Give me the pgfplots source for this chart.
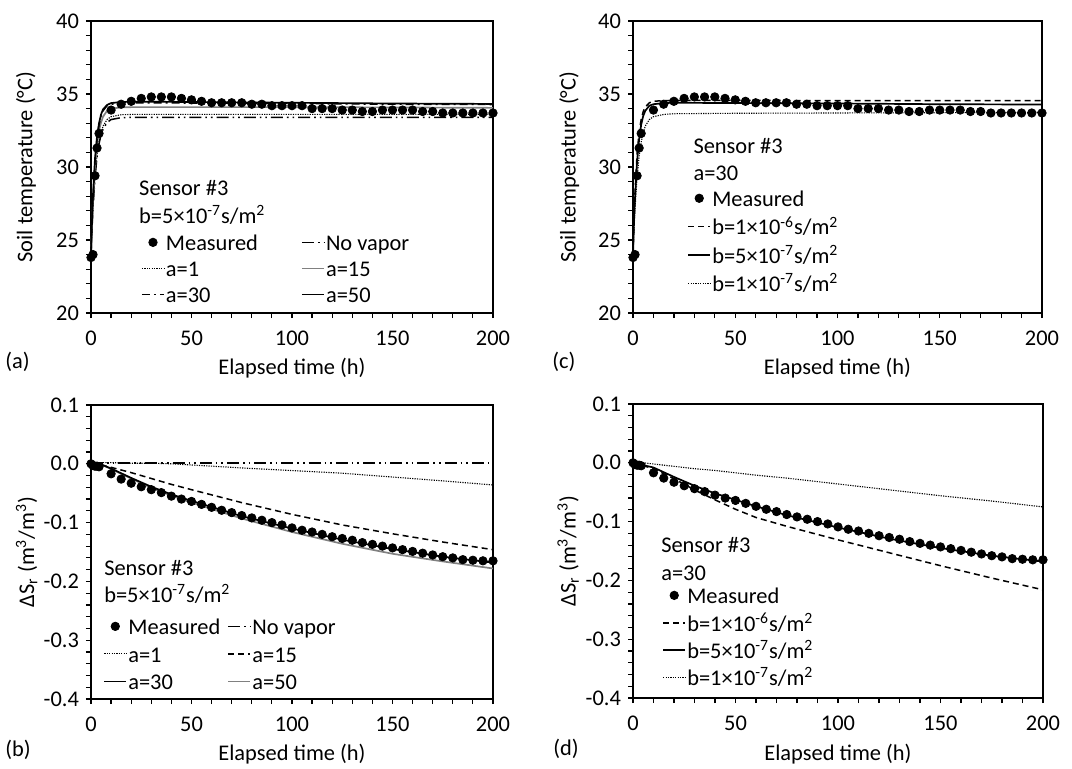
\documentclass[border=0pt]{standalone}
\usepackage{fontspec}
\setmainfont{Carlito}
\usepackage{pgfplots}
\usepackage{pgfplotstable}
\pgfplotsset{compat=1.18}
\newcommand\fs{\fontsize{11.2}{13.4}\selectfont}

\pgfplotstableread{
t T S
0 23.8 0.000
1 24.0 -0.003
2 29.4 -0.004
3 31.3 -0.004
4 32.3 -0.005
10 33.9 -0.017
15 34.3 -0.026
20 34.5 -0.033
25 34.7 -0.039
30 34.8 -0.044
35 34.8 -0.049
40 34.8 -0.055
45 34.7 -0.060
50 34.6 -0.064
55 34.5 -0.069
60 34.4 -0.074
65 34.4 -0.079
70 34.4 -0.083
75 34.4 -0.088
80 34.3 -0.092
85 34.3 -0.096
90 34.2 -0.100
95 34.2 -0.104
100 34.2 -0.109
105 34.2 -0.113
110 34.0 -0.116
115 34.0 -0.120
120 34.0 -0.124
125 33.9 -0.127
130 33.9 -0.130
135 33.8 -0.134
140 33.8 -0.137
145 33.9 -0.140
150 33.9 -0.143
155 33.9 -0.146
160 33.9 -0.149
165 33.8 -0.152
170 33.8 -0.155
175 33.7 -0.158
180 33.7 -0.160
185 33.7 -0.163
190 33.7 -0.164
195 33.7 -0.165
200 33.7 -0.165
}\meas

\pgfplotstableread{
t nv a1 a15 a30 a50
0   24.0 24.0 24.0 24.0 24.0
0.5 25.8 25.8 26.05 26.3 26.3
1   27.2 27.3 27.7 27.9 28.1
2   29.3 29.4 30.0 30.4 30.6
3   30.7 30.85 31.5 31.9 32.1
4   31.6 31.8 32.5 32.9 33.0
5   32.2 32.4 33.05 33.5 33.6
6   32.6 32.8 33.45 33.85 33.95
8   33.05 33.25 33.85 34.2 34.25
10  33.25 33.45 34.0 34.3 34.38
15  33.38 33.58 34.08 34.38 34.45
20  33.4 33.6 34.1 34.4 34.47
30  33.4 33.6 34.1 34.4 34.47
50  33.4 33.6 34.1 34.38 34.45
100 33.4 33.6 34.1 34.35 34.4
150 33.4 33.6 34.08 34.3 34.35
200 33.4 33.6 34.05 34.28 34.32
}\tempA

\pgfplotstableread{
t b6 b57 b7
0 24 24 24
0.5 26.4 26.3 25.75
1 28.3 27.9 27.2
2 30.9 30.4 29.3
3 32.4 31.9 30.75
4 33.25 32.9 31.7
5 33.8 33.5 32.35
6 34.1 33.85 32.8
8 34.4 34.2 33.25
10 34.5 34.3 33.45
15 34.55 34.38 33.6
20 34.56 34.4 33.65
50 34.56 34.38 33.68
100 34.55 34.35 33.7
150 34.55 34.3 33.72
200 34.55 34.28 33.75
}\tempC

\pgfplotstableread{
t nv a1 a15 a30 a50
0 0.001 0.002 0 0 0
5 0.001 0.002 -0.002 -0.001 -0.001
10 0.001 0.002 -0.006 -0.008 -0.009
20 0.001 0.001 -0.015 -0.024 -0.025
30 0.001 0.001 -0.025 -0.039 -0.041
40 0.001 0 -0.035 -0.052 -0.054
50 0.001 -0.002 -0.044 -0.063 -0.066
75 0.001 -0.007 -0.066 -0.089 -0.093
100 0.001 -0.0115 -0.086 -0.110 -0.116
125 0.001 -0.016 -0.104 -0.129 -0.136
150 0.001 -0.0225 -0.119 -0.145 -0.153
175 0.001 -0.029 -0.133 -0.158 -0.166
200 0.001 -0.036 -0.146 -0.168 -0.178
}\satB

\pgfplotstableread{
t b6 b57 b7
0 0 0 0.002
10 -0.010 -0.008 -0.002
20 -0.027 -0.024 -0.006
30 -0.046 -0.039 -0.010
40 -0.063 -0.052 -0.013
50 -0.079 -0.063 -0.017
60 -0.093 -0.074 -0.021
75 -0.108 -0.089 -0.026
100 -0.131 -0.110 -0.036
125 -0.153 -0.129 -0.046
150 -0.175 -0.145 -0.056
175 -0.196 -0.158 -0.065
200 -0.216 -0.168 -0.075
}\satD

\pgfplotsset{
 meas/.style={only marks, mark=*, mark size=2.1pt, black},
 sol/.style={black, line width=0.85pt, no marks},
 gsol/.style={gray, line width=0.85pt, no marks},
 dsh/.style={black, line width=0.75pt, no marks, dash pattern=on 3pt off 2pt},
 dot/.style={black, line width=0.55pt, no marks, dash pattern=on 0.6pt off 0.6pt},
 nov/.style={black, line width=0.75pt, no marks, dash pattern=on 6pt off 2pt on 0.8pt off 2pt on 0.8pt off 2pt},
 lda/.style={black, line width=0.75pt, no marks, dash pattern=on 4pt off 2pt on 1pt off 2pt},
 panel/.style={
  scale only axis, anchor=south west, clip=false,
  xmin=0, xmax=200, xtick={0,50,100,150,200}, minor x tick num=4,
  xtick pos=left, ytick pos=left, tick align=outside,
  major tick length=2.5pt, minor tick length=2.5pt,
  axis line style={line width=0.8pt},
  tick style={black, line width=0.6pt},
  tick label style={font=\fs}, label style={font=\fs},
  /pgf/number format/assume math mode=true,
  xlabel={Elapsed time (h)},
  xticklabel shift=3pt,
  legend cell align=left,
  legend image code/.code={\path[draw=none, fill=none] (0pt,0pt) rectangle (11pt,5pt);
     \draw[mark repeat=2,mark phase=2,##1] plot coordinates {(0pt,1.4pt) (5.5pt,1.4pt) (11pt,1.4pt)};},
  legend style={draw=none, fill=none, inner sep=0pt, font=\fs, anchor=north west,
    nodes={inner xsep=0.6pt, inner ysep=0pt, text height=8.2pt, text depth=2.7pt}},
 },
 sfmt/.style={yticklabel style={/pgf/number format/fixed, /pgf/number format/fixed zerofill, /pgf/number format/precision=1}},
}

\begin{document}
\begin{tikzpicture}
\path[use as bounding box] (0,0) rectangle (536pt,384pt);

% (a)
\begin{axis}[panel, at={(45.5pt,227.5pt)}, width=201pt, height=146pt,
  ymin=20, ymax=40, ytick={20,25,30,35,40}, minor y tick num=4,
  ylabel={Soil temperature (°C)},
  xlabel style={at={(axis description cs:0.5,-0.19)}, anchor=center},
  ylabel style={at={(axis description cs:-0.162,0.5)}, anchor=center},
  legend columns=2,
  legend style={at={(0.124,0.271)}, row sep=2.1pt, /tikz/column 2/.style={column sep=21pt}}]
\addplot[nov, forget plot] table[x=t,y=nv]{\tempA};
\addplot[dot, forget plot] table[x=t,y=a1]{\tempA};
\addplot[gsol, forget plot] table[x=t,y=a15]{\tempA};
\addplot[lda, forget plot] table[x=t,y=a30]{\tempA};
\addplot[sol, forget plot] table[x=t,y=a50]{\tempA};
\addplot[meas, forget plot] table[x=t,y=T]{\meas};
\addlegendimage{meas}\addlegendentry{Measured}
\addlegendimage{nov}\addlegendentry{No vapor}
\addlegendimage{dot}\addlegendentry{a=1}
\addlegendimage{gsol}\addlegendentry{a=15}
\addlegendimage{lda}\addlegendentry{a=30}
\addlegendimage{sol}\addlegendentry{a=50}
\node[anchor=west, inner sep=0, font=\fs] at (axis description cs:0.119,0.428) {Sensor \#3};
\node[anchor=west, inner sep=0, font=\fs] at (axis description cs:0.119,0.336) {b=5×10\textsuperscript{-7}s/m\textsuperscript{2}};
\end{axis}

% (c)
\begin{axis}[panel, at={(316.5pt,227.5pt)}, width=204.5pt, height=146pt,
  ymin=20, ymax=40, ytick={20,25,30,35,40}, minor y tick num=4,
  ylabel={Soil temperature (°C)},
  xlabel style={at={(axis description cs:0.5,-0.19)}, anchor=center},
  ylabel style={at={(axis description cs:-0.156,0.5)}, anchor=center},
  legend style={at={(0.132,0.422)}, row sep=3.3pt}]
\addplot[dot, forget plot] table[x=t,y=b7]{\tempC};
\addplot[dsh, forget plot] table[x=t,y=b6]{\tempC};
\addplot[sol, forget plot] table[x=t,y=b57]{\tempC};
\addplot[meas, forget plot] table[x=t,y=T]{\meas};
\addlegendimage{meas}\addlegendentry{Measured}
\addlegendimage{dsh}\addlegendentry{b=1×10\textsuperscript{-6}s/m\textsuperscript{2}}
\addlegendimage{sol}\addlegendentry{b=5×10\textsuperscript{-7}s/m\textsuperscript{2}}
\addlegendimage{dot}\addlegendentry{b=1×10\textsuperscript{-7}s/m\textsuperscript{2}}
\node[anchor=west, inner sep=0, font=\fs] at (axis description cs:0.147,0.572) {Sensor \#3};
\node[anchor=west, inner sep=0, font=\fs] at (axis description cs:0.147,0.479) {a=30};
\end{axis}

% (b)
\begin{axis}[panel, sfmt, at={(45.5pt,34.5pt)}, width=201pt, height=147pt,
  ymin=-0.4, ymax=0.1, ytick={-0.4,-0.3,-0.2,-0.1,0,0.1}, minor y tick num=4,
  ylabel={ΔS\textsubscript{r} (m\textsuperscript{3}/m\textsuperscript{3})},
  xlabel style={at={(axis description cs:0.5,-0.187)}, anchor=center},
  ylabel style={at={(axis description cs:-0.16,0.5)}, anchor=center},
  legend columns=2,
  legend style={at={(0.030,0.276)}, row sep=2.85pt, /tikz/column 2/.style={column sep=3pt}}]
\addplot[nov, forget plot] table[x=t,y=nv]{\satB};
\addplot[dot, forget plot] table[x=t,y=a1]{\satB};
\addplot[dsh, forget plot] table[x=t,y=a15]{\satB};
\addplot[gsol, forget plot] table[x=t,y=a50]{\satB};
\addplot[sol, forget plot] table[x=t,y=a30]{\satB};
\addplot[meas, forget plot] table[x=t,y=S]{\meas};
\addlegendimage{meas}\addlegendentry{Measured}
\addlegendimage{nov}\addlegendentry{No vapor}
\addlegendimage{dot}\addlegendentry{a=1}
\addlegendimage{dsh}\addlegendentry{a=15}
\addlegendimage{sol}\addlegendentry{a=30}
\addlegendimage{gsol}\addlegendentry{a=50}
\node[anchor=west, inner sep=0, font=\fs] at (axis description cs:0.032,0.446) {Sensor \#3};
\node[anchor=west, inner sep=0, font=\fs] at (axis description cs:0.032,0.357) {b=5×10\textsuperscript{-7}s/m\textsuperscript{2}};
\end{axis}

% (d)
\begin{axis}[panel, sfmt, at={(316.5pt,35pt)}, width=205pt, height=147pt,
  ymin=-0.4, ymax=0.1, ytick={-0.4,-0.3,-0.2,-0.1,0,0.1}, minor y tick num=4,
  ylabel={ΔS\textsubscript{r} (m\textsuperscript{3}/m\textsuperscript{3})},
  xlabel style={at={(axis description cs:0.5,-0.19)}, anchor=center},
  ylabel style={at={(axis description cs:-0.158,0.5)}, anchor=center},
  legend style={at={(0.0707,0.378)}, row sep=2.8pt}]
\addplot[dot, forget plot] table[x=t,y=b7]{\satD};
\addplot[dsh, forget plot] table[x=t,y=b6]{\satD};
\addplot[sol, forget plot] table[x=t,y=b57]{\satD};
\addplot[meas, forget plot] table[x=t,y=S]{\meas};
\addlegendimage{meas}\addlegendentry{Measured}
\addlegendimage{dsh}\addlegendentry{b=1×10\textsuperscript{-6}s/m\textsuperscript{2}}
\addlegendimage{sol}\addlegendentry{b=5×10\textsuperscript{-7}s/m\textsuperscript{2}}
\addlegendimage{dot}\addlegendentry{b=1×10\textsuperscript{-7}s/m\textsuperscript{2}}
\node[anchor=west, inner sep=0, font=\fs] at (axis description cs:0.068,0.520) {Sensor \#3};
\node[anchor=west, inner sep=0, font=\fs] at (axis description cs:0.068,0.425) {a=30};
\end{axis}

\node[anchor=west, inner sep=0, font=\fs] at (2.5pt,203pt) {(a)};
\node[anchor=west, inner sep=0, font=\fs] at (276pt,203pt) {(c)};
\node[anchor=west, inner sep=0, font=\fs] at (2.5pt,9pt) {(b)};
\node[anchor=west, inner sep=0, font=\fs] at (276.5pt,9.5pt) {(d)};
\end{tikzpicture}
\end{document}
